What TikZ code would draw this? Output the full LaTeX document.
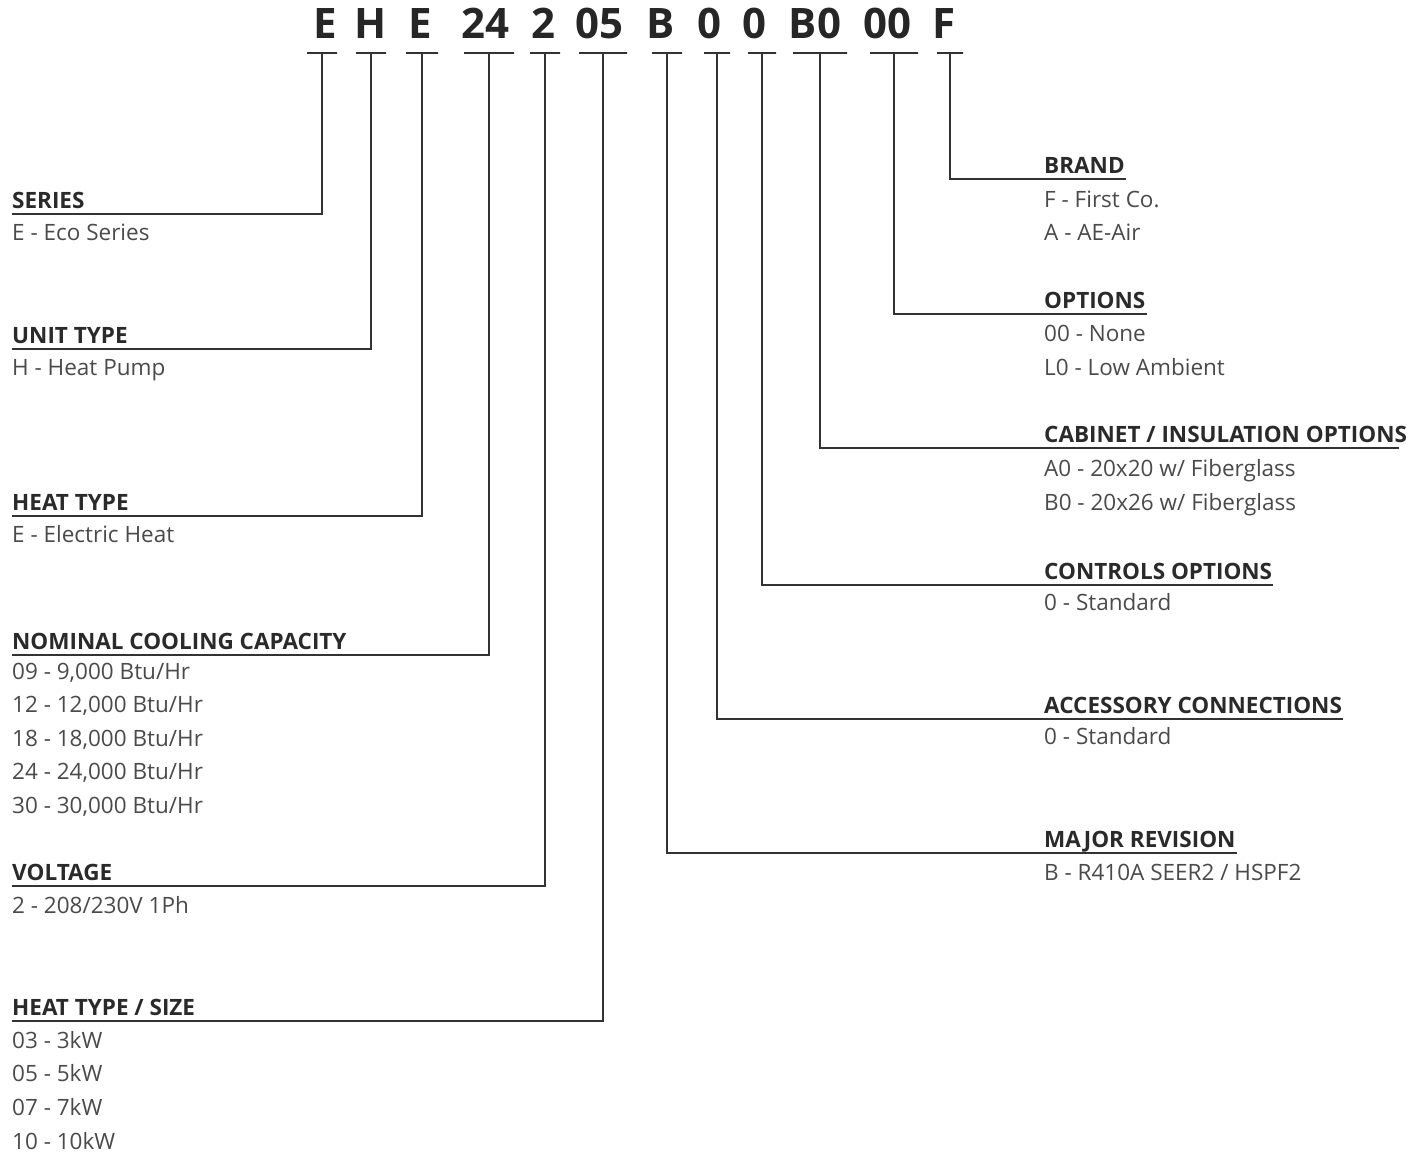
\documentclass[tikz,border=0pt]{standalone}
\usepackage{fontspec}
\setmainfont{Open Sans}
\usepackage{tikz}

\definecolor{codegray}{HTML}{262626}
\definecolor{headgray}{HTML}{2A2A2A}
\definecolor{itemgray}{HTML}{4A4A4A}
\definecolor{linegray}{HTML}{333333}

\tikzset{
	code/.style={font=\fontsize{42}{42}\selectfont\bfseries, text=codegray, inner sep=0pt, anchor=base},
	bar/.style={draw=linegray, line width=2.8pt, inner sep=0pt, minimum height=0pt},
	head/.style={font=\fontsize{22.5}{27}\selectfont\bfseries, text=headgray, inner sep=0pt, anchor=base west},
	item/.style={font=\fontsize{22.5}{27}\selectfont, text=itemgray, inner sep=0pt, anchor=base west},
	link/.style={draw=linegray, line width=2.7pt},
}

\begin{document}
\begin{tikzpicture}[x=1pt, y=-1pt]
				\useasboundingbox (0,0) rectangle (1423,1156);
				\node[code] (cSeries)at(325, 38) {E};
				\node[code] (cUnit)at(371, 38) {H};
				\node[code] (cHeat)at(420, 38) {E};
				\node[code] (cCool)at(485, 38) {24};
				\node[code] (cVolt)at(543, 38) {2};
				\node[code] (cSize)at(599, 38) {05};
				\node[code] (cRev)at(661, 38) {B};
				\node[code] (cAcc)at(709, 38) {0};
				\node[code] (cCtrl)at(754, 38) {0};
				\node[code] (cCab)at(815, 38) {B0};
				\node[code] (cOpt)at(887, 38) {00};
				\node[code] (cBrand)at(944, 38) {F};
				\node[bar, minimum width=30pt] (bSeries)at(322, 53) {};
				\node[bar, minimum width=30pt] (bUnit)at(371, 53) {};
				\node[bar, minimum width=32pt] (bHeat)at(422, 53) {};
				\node[bar, minimum width=50pt] (bCool)at(489, 53) {};
				\node[bar, minimum width=30pt] (bVolt)at(545, 53) {};
				\node[bar, minimum width=48pt] (bSize)at(603, 53) {};
				\node[bar, minimum width=30pt] (bRev)at(667, 53) {};
				\node[bar, minimum width=26pt] (bAcc)at(717, 53) {};
				\node[bar, minimum width=28pt] (bCtrl)at(762, 53) {};
				\node[bar, minimum width=54pt] (bCab)at(820, 53) {};
				\node[bar, minimum width=48pt] (bOpt)at(894, 53) {};
				\node[bar, minimum width=26pt] (bBrand)at(950, 53) {};
				\node[head] (hSeries)at(12, 208) {SERIES};
				\node[item] (iSeriesA)at(12, 240) {E - Eco Series};
				\node[head] (hUnit)at(12, 343) {UNIT TYPE};
				\node[item] (iUnitA)at(12, 375) {H - Heat Pump};
				\node[head] (hHeat)at(12, 510) {HEAT TYPE};
				\node[item] (iHeatA)at(12, 542) {E - Electric Heat};
				\node[head] (hCool)at(12, 649) {NOMINAL COOLING CAPACITY};
				\node[item] (iCoolA)at(12, 679) {09 - 9,000 Btu/Hr};
				\node[item] (iCoolB)at(12, 712) {12 - 12,000 Btu/Hr};
				\node[item] (iCoolC)at(12, 746) {18 - 18,000 Btu/Hr};
				\node[item] (iCoolD)at(12, 779) {24 - 24,000 Btu/Hr};
				\node[item] (iCoolE)at(12, 813) {30 - 30,000 Btu/Hr};
				\node[head] (hVolt)at(12, 880) {VOLTAGE};
				\node[item] (iVoltA)at(12, 913) {2 - 208/230V 1Ph};
				\node[head] (hSize)at(12, 1015) {HEAT TYPE / SIZE};
				\node[item] (iSizeA)at(12, 1048) {03 - 3kW};
				\node[item] (iSizeB)at(12, 1081) {05 - 5kW};
				\node[item] (iSizeC)at(12, 1115) {07 - 7kW};
				\node[item] (iSizeD)at(12, 1149) {10 - 10kW};
				\node[head] (hBrand)at(1044, 173) {BRAND};
				\node[item] (iBrandA)at(1044, 207) {F - First Co.};
				\node[item] (iBrandB)at(1044, 240) {A - AE-Air};
				\node[head] (hOpt)at(1044, 308) {OPTIONS};
				\node[item] (iOptA)at(1044, 341) {00 - None};
				\node[item] (iOptB)at(1044, 375) {L0 - Low Ambient};
				\node[head] (hCab)at(1044, 442) {CABINET / INSULATION OPTIONS};
				\node[item] (iCabA)at(1044, 476) {A0 - 20x20 w/ Fiberglass};
				\node[item] (iCabB)at(1044, 510) {B0 - 20x26 w/ Fiberglass};
				\node[head] (hCtrl)at(1044, 579) {CONTROLS OPTIONS};
				\node[item] (iCtrlA)at(1044, 610) {0 - Standard};
				\node[head] (hAcc)at(1044, 713) {ACCESSORY CONNECTIONS};
				\node[item] (iAccA)at(1044, 744) {0 - Standard};
				\node[head] (hRev)at(1044, 847) {MAJOR REVISION};
				\node[item] (iRevA)at(1044, 880) {B - R410A SEER2 / HSPF2};
				\draw[link] (bSeries.center) |- ([yshift=-6pt]hSeries.base west);
				\draw[link] (bUnit.center) |- ([yshift=-6pt]hUnit.base west);
				\draw[link] (bHeat.center) |- ([yshift=-6pt]hHeat.base west);
				\draw[link] (bCool.center) |- ([yshift=-6pt]hCool.base west);
				\draw[link] (bVolt.center) |- ([yshift=-6pt]hVolt.base west);
				\draw[link] (bSize.center) |- ([yshift=-6pt]hSize.base west);
				\draw[link] (bRev.center) |- ([xshift=1pt, yshift=-6pt]hRev.base east);
				\draw[link] (bAcc.center) |- ([xshift=1pt, yshift=-6pt]hAcc.base east);
				\draw[link] (bCtrl.center) |- ([xshift=1pt, yshift=-6pt]hCtrl.base east);
				\draw[link] (bCab.center) |- ([xshift=-8pt, yshift=-6pt]hCab.base east);
				\draw[link] (bOpt.center) |- ([xshift=1pt, yshift=-6pt]hOpt.base east);
				\draw[link] (bBrand.center) |- ([xshift=1pt, yshift=-6pt]hBrand.base east);
			\end{tikzpicture}
\end{document}
